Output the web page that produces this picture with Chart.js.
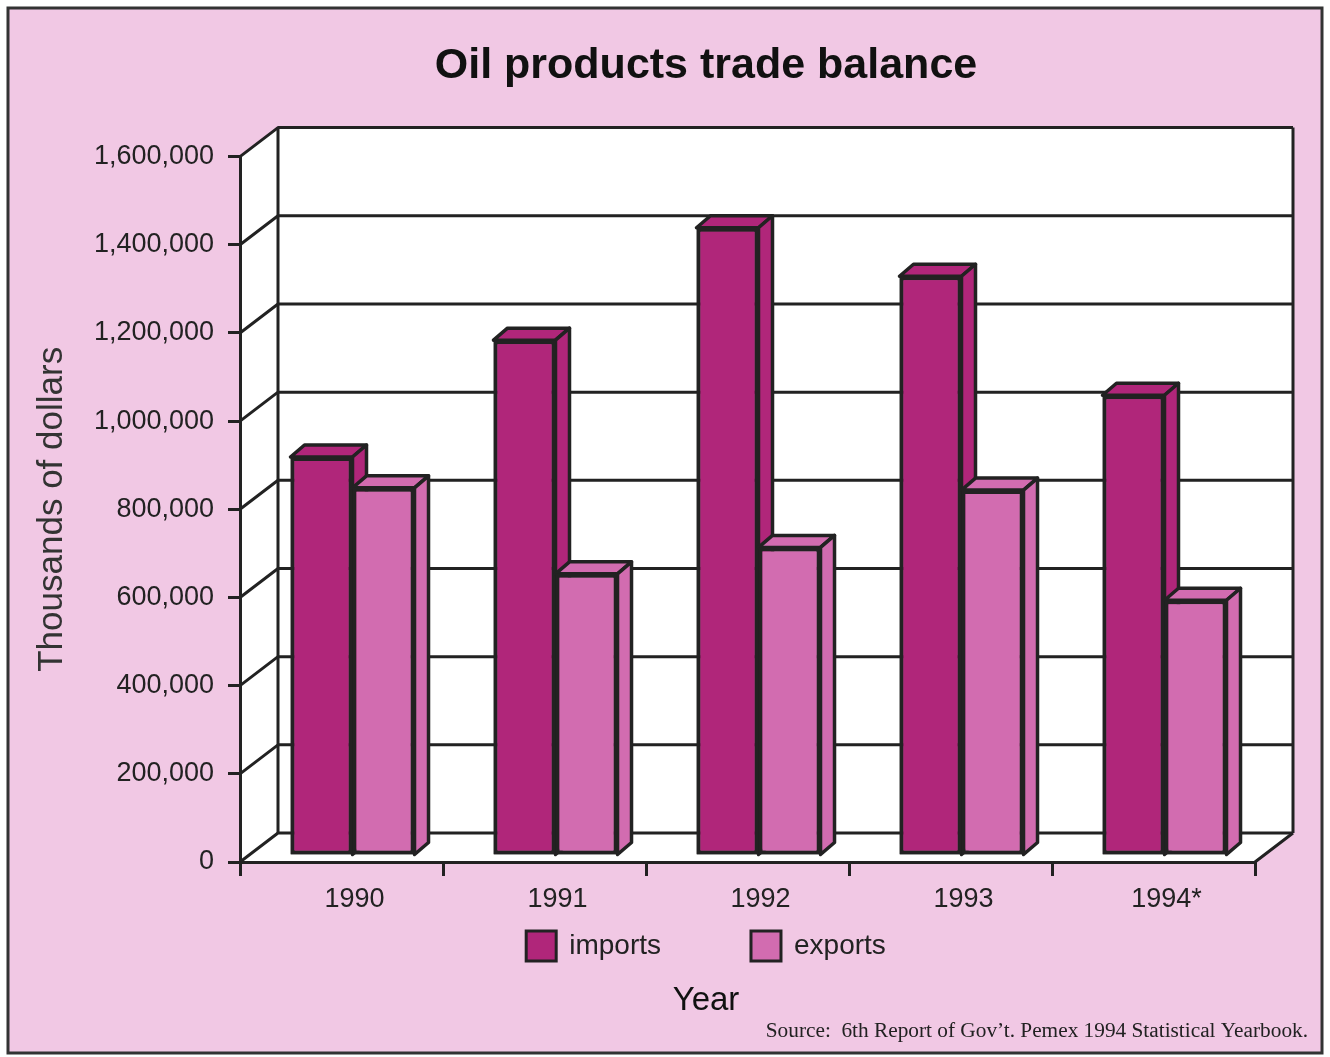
<!DOCTYPE html>
<html>
<head>
<meta charset="utf-8">
<script src="https://cdn.jsdelivr.net/npm/chart.js@4.4.0/dist/chart.umd.min.js"></script>
<style>
html, body { margin: 0; padding: 0; background: #fff; }
canvas { display: block; }
</style>
</head>
<body>
<canvas id="myBarChart" width="1330" height="1057"></canvas>
<script>
// values, thousands of dollars
var years = ['1990', '1991', '1992', '1993', '1994*'];
var imports = [905000, 1170000, 1425000, 1315000, 1045000];
var exports = [835000, 640000, 700000, 830000, 580000];
var seriesNames = ['imports', 'exports'];
var yTicks = [0, 200000, 400000, 600000, 800000, 1000000, 1200000, 1400000, 1600000];

var pink = 'rgb(241, 200, 228)';
var ink = '#222';
var colImports = 'rgb(176, 38, 122)';
var colExports = 'rgb(210, 108, 176)';

// 3D offsets
var wallX = 38, wallY = -29;   // back wall behind the front plane
var barX = 11, barY = -6;      // bars stand a bit behind the front
var boxX = 14, boxY = -12;     // depth of one bar

function poly(c, pts) {
    c.beginPath();
    c.moveTo(pts[0][0], pts[0][1]);
    for (let i = 1; i < pts.length; i++) c.lineTo(pts[i][0], pts[i][1]);
    c.closePath();
}

var threeD = {
    id: 'threeD',
    beforeDraw: function(chart) {
        var c = chart.ctx, a = chart.chartArea, y = chart.scales.y;
        var L = a.left, R = a.right, T = a.top, B = a.bottom;
        c.save();
        c.fillStyle = '#fff';
        c.fillRect(0, 0, chart.width, chart.height);
        c.fillStyle = pink;
        c.fillRect(8, 8, 1314, 1045);
        c.lineWidth = 3;
        c.strokeStyle = '#333';
        c.strokeRect(8, 8, 1314, 1045);

        // walls and floor
        c.fillStyle = '#fff';
        c.fillRect(L + wallX, T + wallY, R - L, B - T);
        poly(c, [[L, T], [L + wallX, T + wallY], [L + wallX, B + wallY], [L, B]]);
        c.fill();
        poly(c, [[L, B], [R, B], [R + wallX, B + wallY], [L + wallX, B + wallY]]);
        c.fill();

        c.strokeStyle = ink;
        c.lineWidth = 3;
        c.lineJoin = 'round';
        y.ticks.forEach(function(t) {
            var py = y.getPixelForValue(t.value);
            c.beginPath();
            c.moveTo(L, py);
            c.lineTo(L + wallX, py + wallY);
            c.lineTo(R + wallX, py + wallY);
            c.stroke();
        });
        c.beginPath();
        c.moveTo(L + wallX, T + wallY);
        c.lineTo(L + wallX, B + wallY);
        c.moveTo(R + wallX, T + wallY);
        c.lineTo(R + wallX, B + wallY);
        c.moveTo(R, B);
        c.lineTo(R + wallX, B + wallY);
        c.stroke();
        c.restore();
    },
    beforeDatasetsDraw: function(chart) {
        chart.ctx.save();
        chart.ctx.translate(barX, barY);
    },
    afterDatasetsDraw: function(chart) {
        var c = chart.ctx;
        // left series first, so each bar's front covers the side of the one before it
        chart.data.datasets.forEach(function(ds, i) {
            chart.getDatasetMeta(i).data.forEach(function(bar) {
                var p = bar.getProps(['x', 'y', 'base', 'width'], true);
                var x0 = p.x - p.width / 2, x1 = p.x + p.width / 2;
                c.save();
                c.strokeStyle = ink;
                c.lineWidth = 3.5;
                c.lineJoin = 'round';
                c.fillStyle = ds.backgroundColor;
                poly(c, [[x0, p.y], [x0 + boxX, p.y + boxY], [x1 + boxX, p.y + boxY], [x1, p.y]]);
                c.fill();
                c.stroke();
                poly(c, [[x1, p.y], [x1 + boxX, p.y + boxY], [x1 + boxX, p.base + boxY], [x1, p.base]]);
                c.fill();
                c.stroke();
                c.restore();
                bar.draw(c);
            });
        });
        c.restore();
    },
    afterDraw: function(chart) {
        var c = chart.ctx, a = chart.chartArea;
        var cx = chart.titleBlock ? chart.titleBlock.left + chart.titleBlock.width / 2 : 706;
        c.save();

        // y axis title
        c.fillStyle = '#333';
        c.font = '35px "Liberation Sans", Arial, sans-serif';
        c.textAlign = 'center';
        c.textBaseline = 'middle';
        c.translate(52, (a.top + a.bottom) / 2);
        c.rotate(-Math.PI / 2);
        c.fillText('Thousands of dollars', 0, 0);
        c.setTransform(1, 0, 0, 1, 0, 0);

        // legend
        c.font = '28px "Liberation Sans", Arial, sans-serif';
        c.textAlign = 'left';
        var box = 30, gapText = 13, gapItem = 90, ly = 946;
        var ws = chart.data.datasets.map(function(d) { return c.measureText(d.label).width; });
        var total = 0;
        ws.forEach(function(w, i) { total += box + gapText + w + (i ? gapItem : 0); });
        var lx = cx - total / 2;
        chart.data.datasets.forEach(function(d, i) {
            c.fillStyle = d.backgroundColor;
            c.fillRect(lx, ly - box / 2, box, box);
            c.strokeStyle = ink;
            c.lineWidth = 3;
            c.strokeRect(lx, ly - box / 2, box, box);
            c.fillStyle = ink;
            c.fillText(d.label, lx + box + gapText, ly);
            lx += box + gapText + ws[i] + gapItem;
        });

        // source
        c.font = '21.3px "Liberation Serif", "Times New Roman", serif';
        c.textAlign = 'right';
        c.textBaseline = 'alphabetic';
        c.fillStyle = ink;
        c.fillText('Source:  6th Report of Gov\u2019t. Pemex 1994 Statistical Yearbook.', 1308, 1037);
        c.restore();
    }
};

Chart.defaults.font.family = '"Liberation Sans", Arial, sans-serif';
Chart.defaults.color = ink;

var ctx = document.getElementById('myBarChart');
var myChart = new Chart(ctx, {
    type: 'bar',
    data: {
        labels: years,
        datasets: [{
            label: seriesNames[0],
            data: imports,
            backgroundColor: colImports,
            borderColor: ink,
            borderWidth: 4,
            borderSkipped: false,
            clip: false,
            categoryPercentage: 0.611,
            barPercentage: 1.0
        }, {
            label: seriesNames[1],
            data: exports,
            backgroundColor: colExports,
            borderColor: ink,
            borderWidth: 4,
            borderSkipped: false,
            clip: false,
            categoryPercentage: 0.611,
            barPercentage: 1.0
        }]
    },
    options: {
        responsive: false,
        animation: false,
        layout: { padding: { left: 90, right: 8, top: 8, bottom: 36 } },
        plugins: {
            legend: { display: false },
            tooltip: { enabled: false },
            title: {
                display: true,
                text: 'Oil products trade balance',
                color: '#111',
                font: { size: 43, weight: 'bold' },
                padding: { top: 32, bottom: 65 }
            },
            subtitle: {
                display: true,
                position: 'bottom',
                text: 'Year',
                color: '#111',
                font: { size: 33 },
                padding: 0
            }
        },
        scales: {
            x: {
                grid: { drawOnChartArea: false, color: ink, lineWidth: 3, tickLength: 14 },
                border: { color: ink, width: 3 },
                ticks: { color: ink, font: { size: 27 }, padding: 7, labelOffset: 13 },
                afterFit: function(s) { s.height = 119.4; }
            },
            y: {
                min: 0,
                max: 1600000,
                afterBuildTicks: function(s) { s.ticks = yTicks.map(function(v) { return { value: v }; }); },
                grid: { drawOnChartArea: false, color: ink, lineWidth: 3, tickLength: 12 },
                border: { color: ink, width: 3 },
                ticks: {
                    color: ink,
                    font: { size: 27 },
                    padding: 14,
                    callback: function(v) { return v.toLocaleString('en-US'); }
                },
                afterFit: function(s) { s.width = 150; }
            },
            yr: {
                position: 'right',
                grid: { display: false },
                border: { display: false },
                ticks: { display: false },
                afterFit: function(s) { s.width = 67; }
            }
        }
    },
    plugins: [threeD]
});
</script>
</body>
</html>
